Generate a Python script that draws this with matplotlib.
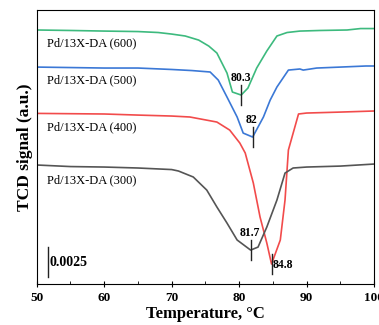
import matplotlib.pyplot as plt

plt.rcParams['font.family'] = ['Liberation Serif', 'DejaVu Serif']

# TCD signal curves (temperature in C, signal in a.u.)
t_600 = [50, 55, 60, 65, 68, 70, 72, 74, 75.5, 76.7, 78.2, 79, 80.3, 81.3, 82.6,
         84.1, 85.6, 87.1, 89, 92, 96, 98, 100]
s_600 = [0.02117, 0.02113, 0.02108, 0.02104, 0.02096, 0.02083, 0.02067, 0.02033,
         0.01983, 0.01925, 0.01758, 0.01600, 0.01575, 0.01633, 0.01800, 0.01942,
         0.02067, 0.02096, 0.02108, 0.02113, 0.02117, 0.02129, 0.02129]

t_500 = [50, 60, 65, 70, 73, 75.7, 76.9, 78.2, 79.7, 80.6, 82, 83.6, 84.6, 85.6,
         87.3, 89, 89.5, 91.5, 95, 98.8, 100]
s_500 = [0.01808, 0.01800, 0.01800, 0.01788, 0.01779, 0.01767, 0.01700, 0.01558,
         0.01392, 0.01258, 0.01225, 0.01392, 0.01533, 0.01642, 0.01783, 0.01792,
         0.01783, 0.01800, 0.01808, 0.01817, 0.01817]

t_400 = [50, 60, 65, 70, 72.7, 76.7, 78.6, 80.1, 80.9, 82.1, 83.1, 84.1, 84.8,
         86.1, 86.8, 87.3, 88.8, 90, 95, 100]
s_400 = [0.01422, 0.01417, 0.01408, 0.01400, 0.01392, 0.01350, 0.01283, 0.01175,
         0.01092, 0.00842, 0.00558, 0.00342, 0.00167, 0.00367, 0.00700, 0.01117,
         0.01417, 0.01425, 0.01433, 0.01442]

t_300 = [50, 55, 60, 65, 70, 71, 73.2, 75.2, 76.7, 78.2, 79.7, 81.7, 82.8, 84.1,
         85.6, 86.8, 88, 90, 95, 100]
s_300 = [0.00992, 0.00979, 0.00975, 0.00967, 0.00954, 0.00942, 0.00892, 0.00783,
         0.00642, 0.00508, 0.00367, 0.00283, 0.00308, 0.00475, 0.00700, 0.00925,
         0.00967, 0.00975, 0.00983, 0.01000]

labels = ['Pd/13X-DA (600)', 'Pd/13X-DA (500)', 'Pd/13X-DA (400)', 'Pd/13X-DA (300)']
label_y = [0.02008, 0.01700, 0.01308, 0.00867]
colors = ['#3dba7e', '#3b78d6', '#f24b4b', '#555555']

# peak positions and their labels
peak_t = [80.3, 82, 84.8, 81.7]
peak_s = [0.01575, 0.01225, 0.00167, 0.00283]
peak_text = ['80.3', '82', '84.8', '81.7']

scale_bar = 0.0025

fig = plt.figure(figsize=(3.79, 3.25), dpi=100)
ax = fig.add_axes([0.097, 0.126, 0.89, 0.843])

curves = [(t_600, s_600), (t_500, s_500), (t_400, s_400), (t_300, s_300)]
for (t, s), c, lab, ly in zip(curves, colors, labels, label_y):
    ax.plot(t, s, color=c, lw=1.2)
    ax.text(51.5, ly, lab, fontsize=9, va='center', ha='left')

# vertical markers at the peak minima
for pt, ps, txt in zip(peak_t, peak_s, peak_text):
    ax.plot([pt, pt], [ps - 0.0008, ps + 0.0008], color='#222222', lw=1)
    if txt == '84.8':
        ax.text(pt + 0.2, ps - 0.0001, txt, fontsize=8.5, fontweight='bold',
                ha='left', va='center')
    else:
        ax.text(pt - 0.1, ps + 0.0009, txt, fontsize=8.5, fontweight='bold',
                ha='center', va='bottom')

# scale bar
ax.plot([51.6, 51.6], [0.00058, 0.00058 + scale_bar], color='#222222', lw=1)
ax.text(51.9, 0.00058 + scale_bar / 2, '0.0025', fontsize=10,
        fontweight='bold', va='center', ha='left')

ax.set_xlim(50, 100)
ax.set_ylim(0, 0.02283)
ax.set_xticks([50, 60, 70, 80, 90, 100])
ax.set_xticks([55, 65, 75, 85, 95], minor=True)
ax.set_yticks([])
ax.tick_params(axis='x', which='major', direction='inout', length=5,
               labelsize=9.5, pad=3)
ax.tick_params(axis='x', which='minor', direction='in', length=2.5)
for lbl in ax.get_xticklabels():
    lbl.set_fontweight('bold')

ax.set_xlabel('Temperature, °C', fontsize=12, fontweight='bold', labelpad=2)
ax.set_ylabel('TCD signal (a.u.)', fontsize=12.5, fontweight='bold', labelpad=3)

plt.savefig('out.png', dpi=100)
